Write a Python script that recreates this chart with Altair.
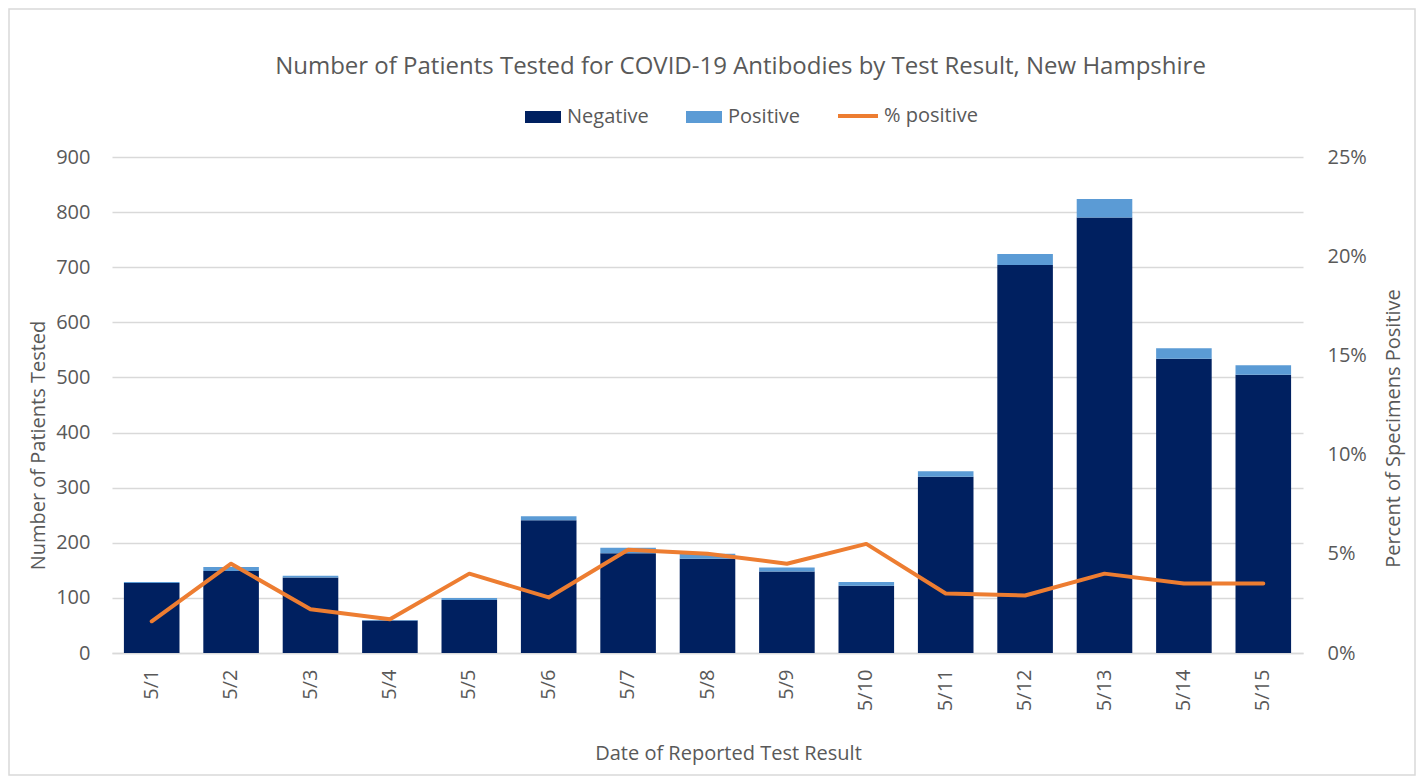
import altair as alt
import pandas as pd

dates = ["5/1", "5/2", "5/3", "5/4", "5/5", "5/6", "5/7", "5/8", "5/9", "5/10",
         "5/11", "5/12", "5/13", "5/14", "5/15"]
negative = [127, 149, 137, 59, 96, 241, 181, 171, 148, 122, 320, 704, 790, 534, 505]
positive = [2, 7, 3, 1, 4, 7, 10, 9, 7, 7, 10, 20, 34, 19, 17]
pct_positive = [0.016, 0.045, 0.022, 0.017, 0.040, 0.028, 0.052, 0.050, 0.045, 0.055,
                0.030, 0.029, 0.040, 0.035, 0.035]

bar_series = ["Negative", "Positive"]
bar_colors = ["#002060", "#5B9BD5"]
line_series = ["% positive"]
line_colors = ["#ED7D31"]
FONT = "Open Sans"
TXT = "#595959"

bars = pd.DataFrame(
    [{"date": d, "result": "Negative", "count": n, "ord": 0} for d, n in zip(dates, negative)]
    + [{"date": d, "result": "Positive", "count": p, "ord": 1} for d, p in zip(dates, positive)]
)
line = pd.DataFrame({"date": dates, "pct": pct_positive, "series": "% positive"})
frame = pd.DataFrame({"k": [0]})

bar_legend = alt.Legend(
    title=None, orient="none", legendX=413, legendY=-58, direction="horizontal",
    labelFont=FONT, labelFontSize=20, labelColor=TXT, symbolSize=1296,
    symbolType="M-1,-0.33H1V0.33H-1Z", symbolStrokeWidth=0, symbolOpacity=1,
    columnPadding=37, labelOffset=6,
)
line_legend = alt.Legend(
    title=None, orient="none", legendX=724, legendY=-63, direction="horizontal",
    labelFont=FONT, labelFontSize=20, labelColor=TXT, symbolSize=1600,
    symbolType="stroke", symbolStrokeWidth=4, labelOffset=4,
)

x_axis = alt.Axis(title="Date of Reported Test Result", labelAngle=-90, labelPadding=16,
                  titleY=100, titleBaseline="middle", titleX=616)
x_enc = alt.X("date:N", sort=dates, scale=alt.Scale(paddingInner=0.3), axis=x_axis)

border = alt.Chart(frame).mark_rect(fill="white", fillOpacity=0, stroke="#d9d9d9",
                                    strokeWidth=1.5, strokeOpacity=1).encode(
    x=alt.value(-103), x2=alt.value(1303), y=alt.value(-148), y2=alt.value(618)
)

bar_layer = alt.Chart(bars).mark_bar().encode(
    x=x_enc,
    y=alt.Y("count:Q", stack="zero",
            scale=alt.Scale(domain=[0, 900], nice=False),
            axis=alt.Axis(title="Number of Patients Tested", values=list(range(0, 901, 100)),
                          grid=True, labelPadding=22, titleAngle=270, titleX=-74,
                          titleY=288, titleBaseline="middle")),
    color=alt.Color("result:N", scale=alt.Scale(domain=bar_series, range=bar_colors),
                    legend=bar_legend),
    order=alt.Order("ord:Q"),
)

line_layer = alt.Chart(line).mark_line(strokeWidth=4, strokeCap="round", strokeJoin="round").encode(
    x=x_enc,
    y=alt.Y("pct:Q", scale=alt.Scale(domain=[0, 0.25], nice=False),
            axis=alt.Axis(title="Percent of Specimens Positive", orient="right", format=".0%",
                          values=[0, 0.05, 0.10, 0.15, 0.20, 0.25], grid=False,
                          labelPadding=24, titleAngle=270, titleX=90, titleY=271,
                          titleBaseline="middle")),
    stroke=alt.Stroke("series:N", scale=alt.Scale(domain=line_series, range=line_colors),
                      legend=line_legend),
)

chart = alt.layer(border, bar_layer, line_layer).resolve_scale(y="independent").properties(
    width=1191, height=496, autosize="none",
    padding={"left": 104, "top": 149, "right": 113, "bottom": 123},
    title=alt.TitleParams(
        "Number of Patients Tested for COVID-19 Antibodies by Test Result, New Hampshire",
        font=FONT, fontSize=24, fontWeight="normal", color=TXT, anchor="middle", dx=33,
        offset=-71,
    ),
).configure_view(stroke=None).configure_axis(
    labelFont=FONT, labelFontSize=20, labelColor=TXT, titleFont=FONT, titleFontSize=20,
    titleColor=TXT, titleFontWeight="normal", gridColor="#d9d9d9", gridWidth=1.5,
    domain=False, ticks=False,
).configure_axisX(domain=True, domainColor="#d9d9d9", domainWidth=1.5)

chart.save("out.html", embed_options={"renderer": "svg", "actions": False})
